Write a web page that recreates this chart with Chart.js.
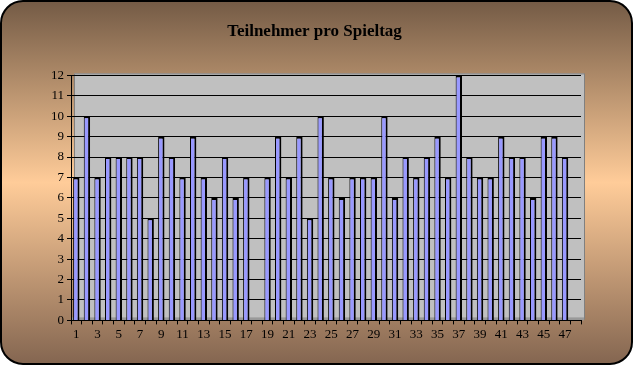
<!DOCTYPE html>
<html>
<head>
<meta charset="utf-8">
<script src="https://cdn.jsdelivr.net/npm/chart.js@4/dist/chart.umd.min.js"></script>
<style>
  html, body { margin: 0; padding: 0; background: #fff; }
  #wrap { width: 633px; height: 365px; position: relative; }
</style>
</head>
<body>
<div id="wrap"><canvas id="spieltage"></canvas></div>
<script>
// Spieltage 1..48 (48 has no value yet)
const spieltage = Array.from({length: 48}, (_, i) => String(i + 1));
const teilnehmer = [7, 10, 7, 8, 8, 8, 8, 5, 9, 8, 7, 9, 7, 6, 8, 6, 7, 0, 7, 9,
                    7, 9, 5, 10, 7, 6, 7, 7, 7, 10, 6, 8, 7, 8, 9, 7, 12, 8, 7, 7,
                    9, 8, 8, 6, 9, 9, 8];
const yMin = 0, yMax = 12;

// background frame + grey "wall" behind the bars
const frame = {
  id: 'frame',
  beforeDraw(chart) {
    const c = chart.ctx, w = chart.width, h = chart.height;
    c.save();
    let g = c.createLinearGradient(0, 0, 0, h);
    g.addColorStop(0, '#735a45');
    g.addColorStop(0.5, '#ffcc99');
    g.addColorStop(1, '#836550');
    c.beginPath();
    c.roundRect(1, 1, w - 2, h - 2, 22);
    c.fillStyle = g;
    c.fill();
    c.lineWidth = 2;
    c.strokeStyle = '#000';
    c.stroke();

    const a = chart.chartArea;
    c.fillStyle = '#c0c0c0';
    c.fillRect(a.left + 3, a.top - 2, a.right - a.left, a.bottom - a.top);
    c.strokeStyle = '#808080';
    c.lineWidth = 1;
    c.strokeRect(a.left + 3.5, a.top - 1.5, a.right - a.left, a.bottom - a.top);
    // floor strip
    c.fillStyle = '#999999';
    c.fillRect(a.left, a.bottom - 3, a.right - a.left + 3, 3);
    c.restore();
  }
};

new Chart(document.getElementById('spieltage'), {
  type: 'bar',
  data: {
    labels: spieltage,
    datasets: [{
      label: 'Teilnehmer',
      data: teilnehmer,
      backgroundColor: '#9999ff',
      borderColor: '#000',
      borderWidth: {left: 1, right: 2, top: 2, bottom: 0},
      borderSkipped: false,
      barPercentage: 0.6,
      categoryPercentage: 1
    }]
  },
  options: {
    responsive: true,
    maintainAspectRatio: false,
    animation: false,
    layout: { padding: {left: 48, right: 52, top: 0, bottom: 21} },
    plugins: {
      legend: { display: false },
      tooltip: { enabled: false },
      title: {
        display: true,
        text: 'Teilnehmer pro Spieltag',
        color: '#000',
        font: { family: 'Liberation Serif', size: 17, weight: 'bold' },
        padding: { top: 21, bottom: 34 }
      }
    },
    scales: {
      x: {
        grid: { drawOnChartArea: false, drawTicks: true, tickLength: 4, color: '#000', offset: true },
        border: { color: '#000', width: 1 },
        ticks: {
          autoSkip: false,
          maxRotation: 0,
          color: '#000',
          font: { family: 'Liberation Serif', size: 13 },
          padding: 2,
          callback: function(v, i) { return (i % 2 === 0 && i < 47) ? this.getLabelForValue(v) : ''; }
        }
      },
      y: {
        min: yMin,
        max: yMax,
        grid: { color: '#000', lineWidth: 1, tickLength: 4 },
        border: { color: '#000', width: 1 },
        ticks: {
          stepSize: 1,
          color: '#000',
          font: { family: 'Liberation Serif', size: 13 },
          padding: 3
        }
      }
    }
  },
  plugins: [frame]
});
</script>
</body>
</html>
